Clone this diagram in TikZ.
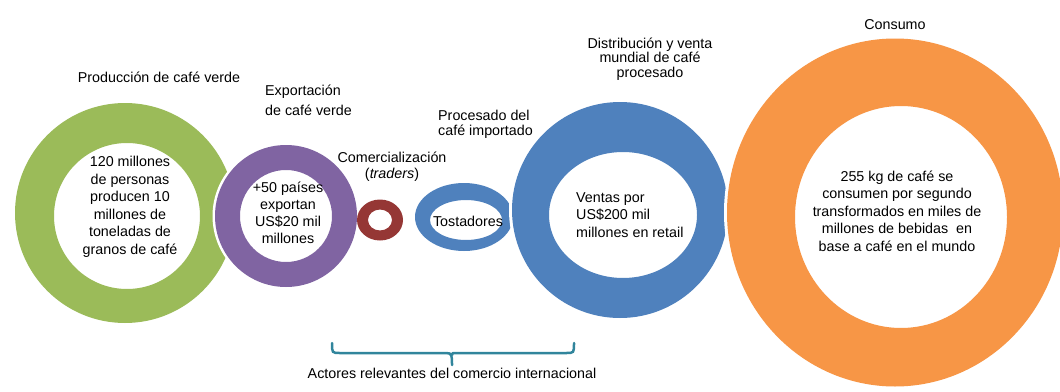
\documentclass[tikz,border=0pt]{standalone}
\usepackage{fontspec}
\setmainfont{Liberation Sans}
\definecolor{cgreen}{HTML}{9BBB59}
\definecolor{cpurple}{HTML}{8064A2}
\definecolor{cred}{HTML}{953735}
\definecolor{cblue}{HTML}{4F81BD}
\definecolor{corange}{HTML}{F79646}
\definecolor{cbrace}{HTML}{31859C}
\begin{document}
\begin{tikzpicture}[x=1pt,y=-1pt,
  lbl/.style={inner sep=0pt,font=\fontsize{14.3}{17.5}\selectfont,text=black},
  ring/.style={even odd rule}]
\useasboundingbox (0,0) rectangle (1060,391);
\clip (0,0) rectangle (1060,391);
% green ring
\fill[cgreen,ring] (125,213) circle (110) (127,216) circle (73);
% purple ring
\fill[white] (286,216) circle (73.5);
\fill[cpurple,ring] (286,216) circle (71) (286,216) circle (46);
% red ring
\fill[cred,ring] (380,220) ellipse (23 and 20.5) (380,220) ellipse (12 and 10.5);
% light blue ring (Tostadores)
\fill[cblue,ring] (464,217) ellipse (49 and 34) (466,220) ellipse (36 and 20);
% big blue ring
\fill[white] (620,210) circle (111);
\fill[cblue,ring] (620,210) circle (108) (623,215) ellipse (74 and 63);
% orange ring
\fill[white] (895,212.5) ellipse (171 and 177);
\fill[corange,ring] (895,212.5) ellipse (168 and 174) (901,217) ellipse (106 and 111);
% labels
\node[lbl,align=center] (prod) at (159,77) {Producción de café verde};
\node[lbl,align=left,anchor=west,font=\fontsize{14.3}{20}\selectfont] (expo) at (265,100) {Exportación\\de café verde};
\node[lbl,align=center,font=\fontsize{14.3}{16}\selectfont] (come) at (392,167) {Comercialización\\(\textit{traders})};
\node[lbl,align=left,anchor=west,font=\fontsize{14.3}{15}\selectfont] (proc) at (438,124.5) {Procesado del\\café importado};
\node[lbl,align=center,font=\fontsize{14.3}{14.3}\selectfont] (dist) at (650,59) {Distribución y venta\\mundial de café\\procesado};
\node[lbl,align=center] (cons) at (895,25) {Consumo};
% inner texts
\node[lbl,align=center] (tgreen) at (130,207) {120 millones\\de personas\\producen 10\\millones de\\toneladas de\\granos de café};
\node[lbl,align=center,font=\fontsize{14.3}{16.8}\selectfont] (tpurple) at (288,213) {+50 países\\exportan\\US\$20 mil\\millones};
\node[lbl] (ttost) at (468,221) {Tostadores};
\node[lbl,align=left,anchor=west] (tblue) at (576,215) {Ventas por\\US\$200 mil\\millones en retail};
\node[lbl,align=center] (torange) at (897,211) {255 kg de café se\\consumen por segundo\\transformados en miles de\\millones de bebidas~ en\\base a café en el mundo};
% brace
\coordinate (bl) at (332,343);
\coordinate (br) at (574,343);
\coordinate (bt) at (452,365);
\draw[cbrace,line width=2.5pt,line cap=round]
  (bl) .. controls (332,353) and (332,353) .. (340,353) -- (446,353)
  .. controls (452,353) and (452,355) .. (bt)
  (452,355) .. controls (452,353) and (452,353) .. (458,353) -- (566,353)
  .. controls (574,353) and (574,353) .. (br);
\node[lbl] (actores) at (452,373) {Actores relevantes del comercio internacional};
\end{tikzpicture}
\end{document}
